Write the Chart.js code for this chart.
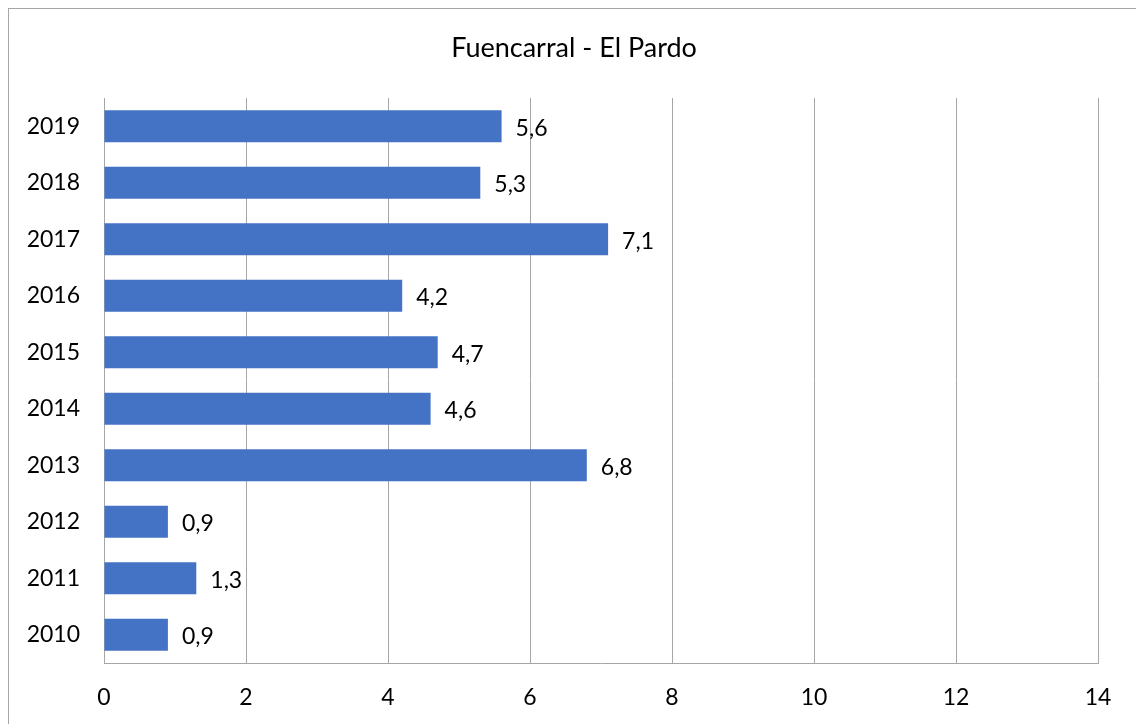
<!DOCTYPE html>
<html>
<head>
<meta charset="utf-8">
<script src="https://cdn.jsdelivr.net/npm/chart.js@4.4.0/dist/chart.umd.min.js"></script>
<style>
  html, body { margin: 0; padding: 0; background: #fff; }
  #wrap { position: relative; width: 1136px; height: 724px; overflow: hidden; }
  #frame { position: absolute; left: 8px; top: 8px; width: 1140px; height: 740px; border: 1px solid #a6a6a6; box-sizing: border-box; }
  canvas { position: absolute; left: 0; top: 0; }
</style>
</head>
<body>
<div id="wrap">
  <div id="frame"></div>
  <canvas id="chart" width="1136" height="724"></canvas>
</div>
<script>
// Data
const years = ['2019', '2018', '2017', '2016', '2015', '2014', '2013', '2012', '2011', '2010'];
const values = [5.6, 5.3, 7.1, 4.2, 4.7, 4.6, 6.8, 0.9, 1.3, 0.9];
const chartTitle = 'Fuencarral - El Pardo';

const fontFamily = 'Lato, "Open Sans", sans-serif';

// Title centred on the whole frame rather than the plot area
const frameTitle = {
    id: 'frameTitle',
    afterDraw(chart) {
        const ctx = chart.ctx;
        ctx.save();
        ctx.font = '27px ' + fontFamily;
        ctx.fillStyle = '#000';
        ctx.textAlign = 'center';
        ctx.textBaseline = 'middle';
        ctx.fillText(chartTitle, 574, 48);
        ctx.restore();
    }
};

// Value labels at the end of each bar, with comma decimals
const barLabels = {
    id: 'barLabels',
    afterDatasetsDraw(chart) {
        const ctx = chart.ctx;
        const meta = chart.getDatasetMeta(0);
        ctx.save();
        ctx.font = '23px ' + fontFamily;
        ctx.fillStyle = '#000';
        ctx.textAlign = 'left';
        ctx.textBaseline = 'middle';
        meta.data.forEach((bar, i) => {
            const text = values[i].toFixed(1).replace('.', ',');
            ctx.fillText(text, bar.x + 14, bar.y + 2);
        });
        ctx.restore();
    }
};

const ctx = document.getElementById('chart').getContext('2d');
new Chart(ctx, {
    type: 'bar',
    data: {
        labels: years,
        datasets: [{
            data: values,
            backgroundColor: '#4472C4',
            borderWidth: 0,
            categoryPercentage: 1,
            barPercentage: 0.57
        }]
    },
    options: {
        indexAxis: 'y',
        responsive: false,
        animation: false,
        layout: {
            padding: { left: 0, right: 38, top: 98, bottom: 0 }
        },
        plugins: {
            legend: { display: false },
            tooltip: { enabled: false },
            title: { display: false }
        },
        scales: {
            x: {
                min: 0,
                max: 14,
                ticks: {
                    stepSize: 2,
                    color: '#000',
                    padding: 21,
                    font: { family: fontFamily, size: 23 }
                },
                grid: {
                    color: '#a6a6a6',
                    lineWidth: 1,
                    drawTicks: false
                },
                border: { display: true, color: '#a6a6a6' },
                afterFit(scale) { scale.height = 61; }
            },
            y: {
                ticks: {
                    color: '#000',
                    padding: 24,
                    font: { family: fontFamily, size: 23 }
                },
                grid: { display: false, drawTicks: false },
                border: { display: true, color: '#a6a6a6' },
                afterFit(scale) { scale.width = 104; }
            }
        }
    },
    plugins: [barLabels, frameTitle]
});
</script>
</body>
</html>
